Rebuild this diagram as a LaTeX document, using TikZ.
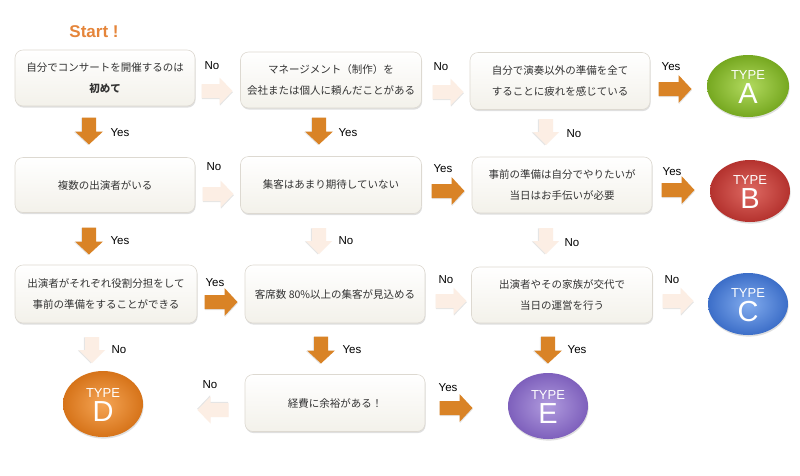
\documentclass[tikz,border=0pt]{standalone}
\usepackage{fontspec}
\setmainfont{Noto Sans CJK JP}
\newfontfamily\latinfont{Liberation Sans}
\usetikzlibrary{shapes.geometric,shadows}
\definecolor{arrorange}{HTML}{D98326}
\definecolor{arrlight}{HTML}{FCEEE4}
\definecolor{boxborder}{HTML}{DDD9D1}
\definecolor{boxbottom}{HTML}{F3F1EA}
\definecolor{starttext}{HTML}{E5853A}
\definecolor{txt}{HTML}{333333}
\definecolor{Ain}{RGB}{178,218,95}\definecolor{Aout}{RGB}{118,168,32}
\definecolor{Bin}{RGB}{222,105,98}\definecolor{Bout}{RGB}{180,50,46}
\definecolor{Cin}{RGB}{130,172,238}\definecolor{Cout}{RGB}{60,110,200}
\definecolor{Din}{RGB}{245,165,85}\definecolor{Dout}{RGB}{214,115,25}
\definecolor{Ein}{RGB}{176,155,222}\definecolor{Eout}{RGB}{126,96,188}
\tikzset{
  qbox/.style={rectangle, rounded corners=8pt, draw=boxborder, line width=0.6pt,
    top color=white, bottom color=boxbottom, minimum width=180pt, minimum height=56pt,
    align=center, text=txt, font=\fontsize{10.5}{21}\selectfont, inner sep=2pt,
    drop shadow={shadow xshift=0.6pt, shadow yshift=-1.6pt, opacity=0.25}},
  yesarr/.style={fill=arrorange},
  noarr/.style={fill=arrlight},
  arrshadow/.style={fill=black, opacity=0.10},
  lbl/.style={font=\latinfont\fontsize{11.5}{12}\selectfont, text=black, inner sep=0pt},
  typeell/.style={ellipse, minimum width=80pt, minimum height=62pt, inner sep=0pt,
    drop shadow={shadow xshift=0.6pt, shadow yshift=-1.6pt, opacity=0.25}},
  typeword/.style={text=white, inner sep=0pt, font=\latinfont\fontsize{13}{13}\selectfont},
  typeletter/.style={text=white, inner sep=0pt, font=\latinfont\fontsize{29}{29}\selectfont},
}
% block arrow: #1 centre, #2 direction angle, #3 style, #4 length, #5 head width
\newcommand{\blockarr}[5]{%
  \begin{scope}[shift={#1}, rotate=#2]
    \fill[arrshadow] ({-#4/2+0.4},{-7+1.2}) -- ({#4/2-13+0.4},{-7+1.2}) -- ({#4/2-13+0.4},{-#5/2+1.2})
       -- ({#4/2+0.4},{0+1.2}) -- ({#4/2-13+0.4},{#5/2+1.2}) -- ({#4/2-13+0.4},{7+1.2}) -- ({-#4/2+0.4},{7+1.2}) -- cycle;
    \fill[#3] ({-#4/2},-7) -- ({#4/2-13},-7) -- ({#4/2-13},{-#5/2})
       -- ({#4/2},0) -- ({#4/2-13},{#5/2}) -- ({#4/2-13},7) -- ({-#4/2},7) -- cycle;
  \end{scope}}
\begin{document}
\begin{tikzpicture}[x=1pt,y=-1pt]
\useasboundingbox (0,0) rectangle (800,475);
\fill[white] (0,0) rectangle (800,475);

\node[font=\latinfont\bfseries\fontsize{17}{18}\selectfont, text=starttext] (start) at (94,32) {Start !};

% question boxes
\node[qbox] (b1) at (105,78) {自分でコンサートを開催するのは\\\textbf{初めて}};
\node[qbox, minimum width=181pt] (b2) at (331,80) {マネージメント（制作）を\\会社または個人に頼んだことがある};
\node[qbox, minimum height=57pt] (b3) at (560,81) {自分で演奏以外の準備を全て\\することに疲れを感じている};
\node[qbox, minimum height=55pt] (b4) at (105,185) {複数の出演者がいる};
\node[qbox, minimum width=181pt, minimum height=57pt] (b5) at (331,185) {集客はあまり期待していない};
\node[qbox] (b6) at (562,185) {事前の準備は自分でやりたいが\\当日はお手伝いが必要};
\node[qbox, minimum width=182pt, minimum height=58pt] (b7) at (106,294) {出演者がそれぞれ役割分担をして\\事前の準備をすることができる};
\node[qbox, minimum height=58pt] (b8) at (335,294) {客席数 80\%以上の集客が見込める};
\node[qbox, minimum width=181pt] (b9) at (562,295) {出演者やその家族が交代で\\当日の運営を行う};
\node[qbox, minimum height=57pt] (b10) at (335,403) {経費に余裕がある！};

% result ellipses
\node[typeell, inner color=Ain, outer color=Aout, minimum width=82pt] (tA) at (748,86) {};
\node[typeell, inner color=Bin, outer color=Bout] (tB) at (750,191) {};
\node[typeell, inner color=Cin, outer color=Cout] (tC) at (748,304) {};
\node[typeell, minimum height=66pt, inner color=Din, outer color=Dout] (tD) at (103,404) {};
\node[typeell, minimum height=66pt, inner color=Ein, outer color=Eout] (tE) at (548,406) {};
\foreach \n/\L in {tA/A, tB/B, tC/C, tD/D, tE/E}{
  \node[typeword] (\n w) at ([yshift=11pt]\n.center) {TYPE};
  \node[typeletter] (\n l) at ([yshift=-8pt]\n.center) {\L};
}

% block arrows
\blockarr{(217,91)}{0}{noarr}{31}{27}
\blockarr{(448,92)}{0}{noarr}{31}{27}
\blockarr{(675,89)}{0}{yesarr}{33}{28}
\blockarr{(89,131)}{270}{yesarr}{27}{28}
\blockarr{(319,131)}{270}{yesarr}{27}{28}
\blockarr{(546,132)}{270}{noarr}{26}{26}
\blockarr{(218,194)}{0}{noarr}{31}{27}
\blockarr{(448,191)}{0}{yesarr}{33}{28}
\blockarr{(678,190)}{0}{yesarr}{33}{28}
\blockarr{(89,241)}{270}{yesarr}{27}{28}
\blockarr{(319,241)}{270}{noarr}{26}{26}
\blockarr{(546,241)}{270}{noarr}{26}{26}
\blockarr{(221,302)}{0}{yesarr}{33}{28}
\blockarr{(451,301)}{0}{noarr}{31}{27}
\blockarr{(678,301)}{0}{noarr}{31}{27}
\blockarr{(92,350)}{270}{noarr}{26}{26}
\blockarr{(321,350)}{270}{yesarr}{27}{28}
\blockarr{(548,350)}{270}{yesarr}{27}{28}
\blockarr{(213,410)}{180}{noarr}{31}{27}
\blockarr{(456,408)}{0}{yesarr}{33}{28}

% labels
\node[lbl] (l1) at (212,66) {No};
\node[lbl] (l2) at (441,67) {No};
\node[lbl] (l3) at (671,67) {Yes};
\node[lbl] (l4) at (120,133) {Yes};
\node[lbl] (l5) at (348,133) {Yes};
\node[lbl] (l6) at (574,134) {No};
\node[lbl] (l7) at (214,167) {No};
\node[lbl] (l8) at (443,169) {Yes};
\node[lbl] (l9) at (672,172) {Yes};
\node[lbl] (l10) at (120,241) {Yes};
\node[lbl] (l11) at (346,241) {No};
\node[lbl] (l12) at (572,243) {No};
\node[lbl] (l13) at (215,283) {Yes};
\node[lbl] (l14) at (446,280) {No};
\node[lbl] (l15) at (672,280) {No};
\node[lbl] (l16) at (119,350) {No};
\node[lbl] (l17) at (352,350) {Yes};
\node[lbl] (l18) at (577,350) {Yes};
\node[lbl] (l19) at (210,385) {No};
\node[lbl] (l20) at (448,388) {Yes};
\end{tikzpicture}
\end{document}
